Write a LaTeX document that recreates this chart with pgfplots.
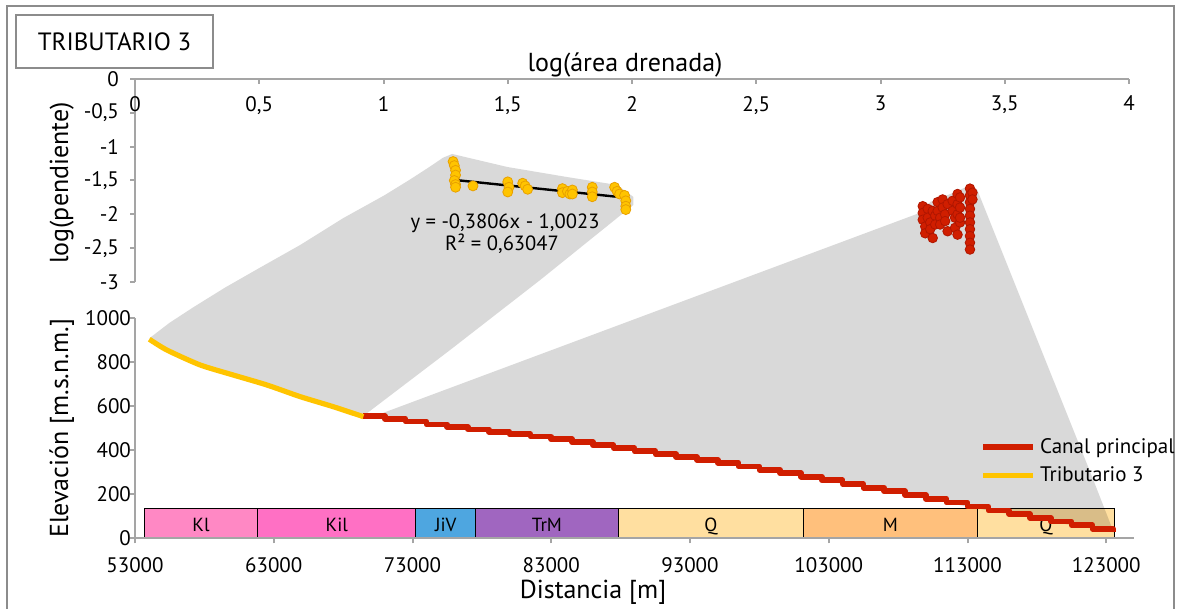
\documentclass[border=0pt]{standalone}
\usepackage{pgfplots}
\pgfplotsset{compat=1.18}
\usepackage{fontspec}
\setmainfont{PT Sans}
\definecolor{redline}{RGB}{208,30,0}
\definecolor{yell}{RGB}{255,196,0}
\definecolor{yelledge}{RGB}{232,160,0}
\definecolor{rededge}{RGB}{175,22,0}
\definecolor{axgray}{RGB}{165,165,165}
\definecolor{framegray}{RGB}{140,140,140}
\definecolor{cKI}{RGB}{255,136,196}
\definecolor{cKiI}{RGB}{255,112,196}
\definecolor{cJiV}{RGB}{78,166,224}
\definecolor{cTrM}{RGB}{160,102,192}
\definecolor{cQ}{RGB}{255,223,160}
\definecolor{cM}{RGB}{255,192,124}
\begin{document}
\begin{tikzpicture}
\useasboundingbox (0,0) rectangle (590.5pt,304.5pt);
\fill[white] (0,0) rectangle (590.5pt,304.5pt);
\draw[framegray, line width=0.75pt] (3.5pt,0pt) -- (3.5pt,301.5pt) -- (587pt,301.5pt) -- (587pt,0pt);

% ---------------- bottom axis: longitudinal profile ----------------
\begin{axis}[
  at={(67.5pt,35.35pt)}, anchor=south west,
  scale only axis, width=499.5pt, height=110pt,
  xmin=53000, xmax=125000, ymin=0, ymax=1000,
  axis lines=left, axis line style={-, axgray, line width=1pt},
  axis on top,
  scaled x ticks=false, scaled y ticks=false,
  tick align=outside, major tick length=2.5pt,
  tick style={axgray, line width=1pt},
  xtick={53000,63000,73000,83000,93000,103000,113000,123000},
  xticklabels={53000,63000,73000,83000,93000,103000,113000,123000},
  ytick={0,200,400,600,800,1000},
  yticklabels={0,200,400,600,800,1000},
  ticklabel style={font=\fontsize{10.5}{12}\selectfont},
  xticklabel style={yshift=-3.5pt},
  yticklabel style={xshift=4pt},
  clip=false,
  legend style={at={(0.846,0.475)}, anchor=north west, draw=none, fill=none,
    font=\fontsize{10.5}{12}\selectfont, inner sep=0pt, row sep=1.2pt},
  legend cell align=left,
  legend image code/.code={\draw[#1] (0pt,0pt) -- (25pt,0pt);},
]
% geological units
\addplot[draw=black, line width=0.5pt, fill=cKI, forget plot] coordinates {(53670,135) (61850,135)} \closedcycle;
\addplot[draw=black, line width=0.5pt, fill=cKiI, forget plot] coordinates {(61850,135) (73240,135)} \closedcycle;
\addplot[draw=black, line width=0.5pt, fill=cJiV, forget plot] coordinates {(73240,135) (77560,135)} \closedcycle;
\addplot[draw=black, line width=0.5pt, fill=cTrM, forget plot] coordinates {(77560,135) (87820,135)} \closedcycle;
\addplot[draw=black, line width=0.5pt, fill=cQ, forget plot] coordinates {(87820,135) (101180,135)} \closedcycle;
\addplot[draw=black, line width=0.5pt, fill=cM, forget plot] coordinates {(101180,135) (113690,135)} \closedcycle;
\addplot[draw=black, line width=0.5pt, fill=cQ, forget plot] coordinates {(113690,135) (123610,135)} \closedcycle;
\begin{scope}[font=\fontsize{9.5}{11}\selectfont]
\node[anchor=base] at (axis cs:57760,30) {Kl};
\node[anchor=base] at (axis cs:67545,30) {Kil};
\node[anchor=base] at (axis cs:75400,30) {JiV};
\node[anchor=base] at (axis cs:82690,30) {TrM};
\node[anchor=base] at (axis cs:94500,30) {Q};
\node[anchor=base] at (axis cs:107435,30) {M};
\node[anchor=base] at (axis cs:118650,30) {Q};
\end{scope}
% callout shading
\addplot[fill=black, fill opacity=0.15, draw=none, forget plot] coordinates {
 (54030,909) (55500,980) (57200,1050) (59500,1140) (62000,1230) (64900,1333) (68000,1455)
 (71000,1560) (72800,1630) (74270,1690) (75200,1730) (75860,1747)
 (79820,1688) (84150,1642) (87750,1606) (88910,1552) (88910,1515) (82200,1174)
 (75710,856) (69460,556) (67300,598) (64900,644) (62500,697) (60090,742)
 (57690,788) (55290,856)} -- cycle;
\addplot[fill=black, fill opacity=0.15, draw=none, forget plot] coordinates {
 (70160,553) (109600,1480) (110320,1529) (111760,1565) (113060,1601) (113710,1583)
 (122070,265) (123540,27) (119000,76) (113690,136) (108160,201) (102390,265)
 (95180,341) (88000,405) (82200,457) (75000,510)} -- cycle;
% main channel
\addplot[const plot, redline, line width=2.8pt, line join=round] coordinates {
 (69460,556) (71000,543) (72500,531) (74000,518) (75500,506) (77000,495)
 (78500,484) (80000,473) (81500,462) (83000,450) (84500,437) (86000,423)
 (87500,410) (89000,396) (90500,383) (92000,370) (93500,356) (95000,343)
 (96500,327) (98000,311) (99500,296) (101000,280) (102500,264) (104000,247)
 (105500,230) (107000,214) (108500,197) (110000,179) (111500,162) (113000,144)
 (114500,127) (116000,110) (117500,93) (119000,76) (120500,60) (122000,43)
 (123500,27)};
\addlegendentry{Canal principal}
% tributary
\addplot[yell, line width=2.6pt, line join=round, smooth, tension=0.4] coordinates {
 (54030,905) (55290,856) (57690,788) (60090,742) (62500,697) (64900,644)
 (67300,598) (69460,553)};
\addlegendentry{Tributario 3}
\end{axis}

% ---------------- top axis: slope-area ----------------
\begin{axis}[
  at={(67.5pt,163.5pt)}, anchor=south west,
  scale only axis, width=497pt, height=101.5pt,
  xmin=0, xmax=4, ymin=-3, ymax=0,
  axis x line=middle, axis y line=left,
  axis line style={-, axgray, line width=1pt},
  hide obscured x ticks=false, hide obscured y ticks=false,
  tick align=outside, major tick length=2.5pt,
  tick style={axgray, line width=1pt},
  xtick={0,0.5,1,1.5,2,2.5,3,3.5,4},
  xticklabels={0,{0,5},1,{1,5},2,{2,5},3,{3,5},4},
  ytick={-3,-2.5,-2,-1.5,-1,-0.5,0},
  yticklabels={-3,{-2,5},-2,{-1,5},-1,{-0,5},0},
  ticklabel style={font=\fontsize{10.5}{12}\selectfont},
  xticklabel style={yshift=-2.5pt},
  yticklabel style={xshift=-2pt},
  clip=false,
]
\addplot[only marks, mark=*, mark size=2.5pt, mark options={fill=yell, draw=yelledge, line width=0.4pt}] coordinates {
 (1.28,-1.22) (1.285,-1.28) (1.29,-1.35) (1.29,-1.42) (1.285,-1.50) (1.29,-1.56) (1.29,-1.60)
 (1.36,-1.58)
 (1.50,-1.52) (1.505,-1.60) (1.50,-1.67)
 (1.56,-1.54) (1.57,-1.58) (1.58,-1.63)
 (1.72,-1.62) (1.72,-1.68) (1.74,-1.66) (1.75,-1.70) (1.76,-1.64) (1.76,-1.70)
 (1.84,-1.60) (1.84,-1.67) (1.84,-1.74)
 (1.93,-1.60) (1.94,-1.66) (1.95,-1.70)
 (1.97,-1.72) (1.975,-1.80) (1.975,-1.88) (1.975,-1.93)};
\addplot[black, line width=1.2pt] coordinates {(1.288,-1.4925) (1.972,-1.7528)};
\addplot[only marks, mark=*, mark size=2.4pt, mark options={fill=redline, draw=rededge, line width=0.4pt}] coordinates {
 (3.17,-1.88) (3.17,-1.98) (3.17,-2.08) (3.18,-2.18) (3.18,-2.28) (3.19,-1.92) (3.19,-2.05)
 (3.20,-2.12) (3.20,-2.22) (3.21,-2.35) (3.21,-1.95) (3.22,-2.02) (3.22,-2.15)
 (3.23,-1.82) (3.23,-1.95) (3.24,-2.05) (3.24,-2.15) (3.25,-1.78) (3.25,-1.90)
 (3.26,-2.00) (3.26,-2.10) (3.27,-2.25) (3.27,-1.85)
 (3.29,-1.80) (3.29,-1.95) (3.30,-2.05) (3.30,-2.20) (3.31,-2.30) (3.31,-1.70)
 (3.31,-1.85) (3.31,-2.00) (3.32,-2.12) (3.32,-1.75) (3.32,-1.90) (3.32,-2.05)
 (3.36,-1.62) (3.36,-1.72) (3.36,-1.82) (3.36,-1.92) (3.36,-2.02) (3.36,-2.12)
 (3.36,-2.22) (3.36,-2.32) (3.36,-2.42) (3.36,-2.52) (3.37,-1.68) (3.37,-1.78)};
\end{axis}

% ---------------- texts ----------------
\node[font=\fontsize{10.3}{12}\selectfont, anchor=base] at (252.5pt,190pt) {y = -0,3806x - 1,0023};
\node[font=\fontsize{10.3}{12}\selectfont, anchor=base] at (251pt,179pt) {R² = 0,63047};
\node[font=\fontsize{13}{15}\selectfont, anchor=base] at (312.5pt,268.65pt) {log(área drenada)};
\node[font=\fontsize{13}{15}\selectfont, anchor=base, rotate=90] at (34pt,213pt) {log(pendiente)};
\node[font=\fontsize{13}{15}\selectfont, anchor=base, rotate=90] at (34pt,90.25pt) {Elevación [m.s.n.m.]};
\node[font=\fontsize{13}{15}\selectfont, anchor=base] at (296.5pt,5pt) {Distancia [m]};
\draw[framegray, line width=0.6pt, fill=white] (8pt,297pt) rectangle (106.5pt,270.5pt);
\node[font=\fontsize{12.5}{14}\selectfont] at (57.25pt,283.75pt) {TRIBUTARIO 3};
\end{tikzpicture}
\end{document}
